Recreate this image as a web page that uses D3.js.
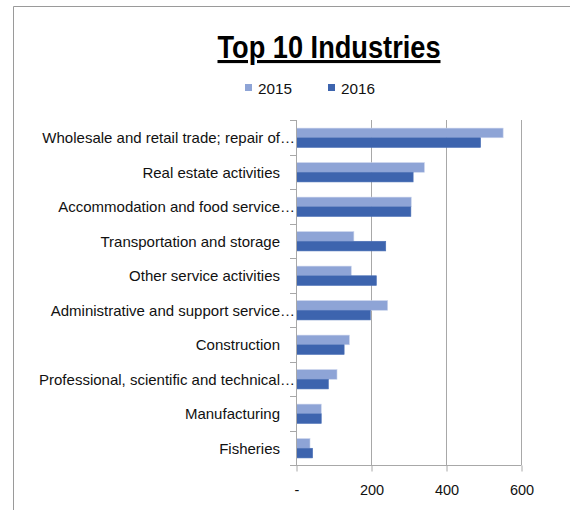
<!DOCTYPE html>
<html>
<head>
<meta charset="utf-8">
<script src="https://cdn.jsdelivr.net/npm/d3@7"></script>
<style>
  body { margin: 0; background: #fff; }
  svg { display: block; font-family: "Liberation Sans", Arial, sans-serif; }
</style>
</head>
<body>
<svg id="chart" width="570" height="510"></svg>
<script>
const categories = [
  "Wholesale and retail trade; repair of…",
  "Real estate activities",
  "Accommodation and food service…",
  "Transportation and storage",
  "Other service activities",
  "Administrative and support service…",
  "Construction",
  "Professional, scientific and technical…",
  "Manufacturing",
  "Fisheries"
];
const seriesNames = ["2015", "2016"];
const values2015 = [551, 341, 306, 153, 146, 243, 141, 108, 66, 36];
const values2016 = [491, 311, 305, 238, 213, 197, 127, 85, 66, 43];
const xTicks = [0, 200, 400, 600];
const titleText = "Top 10 Industries";

const colors = ["#8EA4D6", "#3D64AE"];
const strokes = ["#C9D3EC", "#4A70B6"];

const svg = d3.select("#chart");

// border
svg.append("path")
  .attr("d", "M13.5,510 L13.5,6.5 L570,6.5")
  .attr("fill", "none").attr("stroke", "#9a9a9a").attr("stroke-width", 1);

const x = d3.scaleLinear().domain([0, 600]).range([296, 521]);
const y = d3.scaleBand().domain(categories).range([120, 465]).padding(0);
const bw = y.bandwidth();
const barH = bw * 0.28;
const off = bw * 0.235;

// gridlines
svg.append("g").selectAll("line")
  .data(xTicks.filter(d => d > 0))
  .join("line")
  .attr("x1", d => x(d) + 0.5).attr("x2", d => x(d) + 0.5)
  .attr("y1", 120).attr("y2", 465)
  .attr("stroke", "#a8a8a8").attr("stroke-width", 1);

// bars
const series = [values2015, values2016];
series.forEach((vals, si) => {
  svg.append("g").selectAll("rect")
    .data(vals.map((v, i) => ({ cat: categories[i], v })))
    .join("rect")
    .attr("x", x(0) + 0.5)
    .attr("y", d => y(d.cat) + off + si * barH)
    .attr("width", d => x(d.v) - x(0))
    .attr("height", barH)
    .attr("fill", colors[si])
    .attr("stroke", strokes[si])
    .attr("stroke-width", 0.6);
});

// x axis
const xAxis = svg.append("g")
  .attr("transform", "translate(0.5,465.5)")
  .call(d3.axisBottom(x).tickValues(xTicks).tickSize(6).tickSizeOuter(0)
    .tickFormat(d => d === 0 ? "-" : d));
xAxis.select(".domain").attr("stroke", "#a8a8a8").attr("d", "M290,0H" + x(600));
xAxis.selectAll(".tick line").attr("stroke", "#a8a8a8");
xAxis.selectAll(".tick text")
  .attr("y", 29).attr("dy", null)
  .style("font-size", "14.5px").style("font-family", "'Liberation Sans', Arial, sans-serif")
  .attr("fill", "#111");

// y axis line and ticks
svg.append("line")
  .attr("x1", 296.5).attr("x2", 296.5).attr("y1", 120).attr("y2", 465.5)
  .attr("stroke", "#a8a8a8");
svg.append("g").selectAll("line")
  .data(categories.map(c => y(c)).concat([y.range()[1]]))
  .join("line")
  .attr("x1", 290).attr("x2", 296.5)
  .attr("y1", d => Math.round(d) + 0.5).attr("y2", d => Math.round(d) + 0.5)
  .attr("stroke", "#a8a8a8");

// category labels
svg.append("g").selectAll("text")
  .data(categories)
  .join("text")
  .attr("x", d => d.endsWith("…") ? 295 : 280)
  .attr("y", d => y(d) + bw / 2 + 5.8)
  .attr("text-anchor", "end")
  .style("font-size", "15px")
  .attr("fill", "#111")
  .text(d => d);

// title
svg.append("text")
  .attr("x", 329).attr("y", 58)
  .attr("text-anchor", "middle")
  .style("font-size", "31px").style("font-weight", "bold")
  .style("text-decoration", "underline")
  .attr("textLength", 223).attr("lengthAdjust", "spacingAndGlyphs")
  .attr("fill", "#000")
  .text(titleText);

// legend
const legX = [245, 328];
seriesNames.forEach((s, i) => {
  svg.append("rect").attr("x", legX[i]).attr("y", 84).attr("width", 7).attr("height", 7)
    .attr("fill", colors[i]);
  svg.append("text").attr("x", legX[i] + 13).attr("y", 93.5)
    .style("font-size", "15.3px").attr("fill", "#111").text(s);
});
</script>
</body>
</html>
